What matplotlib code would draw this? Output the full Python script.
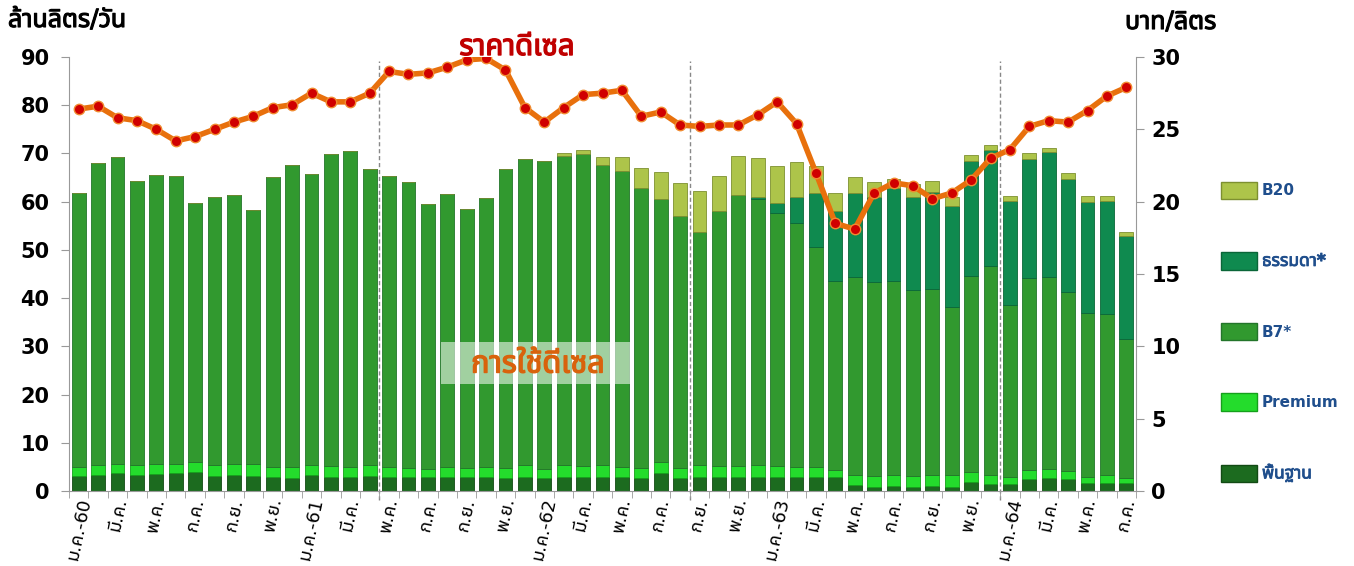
import numpy as np
import matplotlib
matplotlib.use('Agg')
import matplotlib.pyplot as plt
import matplotlib.patheffects as pe
from matplotlib import font_manager
from matplotlib.ft2font import FT2Font
from matplotlib.patches import Patch, Rectangle


# Pick any installed font that has Thai glyphs
def find_thai_font():
    names = []
    for f in font_manager.fontManager.ttflist:
        try:
            if 0x0E01 in FT2Font(f.fname).get_charmap():
                names.append(f.name)
        except Exception:
            continue
    for pref in ['Tahoma', 'Noto Sans Thai', 'Noto Sans Thai UI', 'Loma', 'Garuda', 'Sarabun']:
        if pref in names:
            return pref
    return names[0] if names else 'DejaVu Sans'


THAI = find_thai_font()
# Latin glyphs from DejaVu, Thai glyphs fall through to the Thai font
plt.rcParams['font.family'] = ['DejaVu Sans', THAI]

# Monthly data, Jan 2017 (ม.ค.-60) to Jul 2021 (ก.ค.-64)
months = ['ม.ค.', 'ก.พ.', 'มี.ค.', 'เม.ย.', 'พ.ค.', 'มิ.ย.',
          'ก.ค.', 'ส.ค.', 'ก.ย.', 'ต.ค.', 'พ.ย.', 'ธ.ค.']
years = ['60', '61', '62', '63', '64']

# million litres per day
base = [3.2, 3.4, 3.7, 3.4, 3.5, 3.7, 4.0, 3.2, 3.3, 3.2, 3.0, 2.6,
        3.4, 3.0, 2.8, 3.1, 3.0, 2.8, 2.8, 3.0, 3.0, 3.0, 2.7, 3.0,
        2.6, 3.0, 3.0, 3.0, 2.8, 2.6, 3.8, 2.6, 3.0, 2.9, 2.9, 3.0,
        2.9, 3.0, 3.0, 2.8, 1.2, 0.9, 1.0, 0.9, 1.0, 0.9, 1.9, 1.4,
        1.4, 2.4, 2.6, 2.4, 1.7, 1.7, 1.6]
premium = [1.8, 1.9, 1.8, 1.9, 2.0, 1.8, 2.1, 2.1, 2.2, 2.3, 2.0, 2.4,
           2.0, 2.2, 2.2, 2.3, 2.0, 2.0, 1.8, 2.0, 1.8, 2.0, 2.1, 2.4,
           2.0, 2.4, 2.2, 2.4, 2.2, 2.2, 2.2, 2.2, 2.4, 2.3, 2.3, 2.4,
           2.3, 2.0, 2.0, 1.5, 2.1, 2.2, 2.3, 2.2, 2.3, 2.4, 2.0, 1.9,
           1.6, 1.9, 2.0, 1.7, 1.3, 1.6, 1.0]
b7 = [56.9, 62.8, 63.7, 59.0, 60.0, 59.8, 53.6, 55.7, 55.9, 52.7, 60.1, 62.6,
      60.3, 64.7, 65.5, 61.4, 60.4, 59.3, 54.9, 56.6, 53.6, 55.8, 61.9, 63.4,
      63.9, 64.0, 64.7, 62.3, 61.4, 58.0, 54.5, 52.2, 48.4, 52.9, 56.1, 55.2,
      52.4, 50.5, 45.7, 39.3, 41.1, 40.2, 40.2, 38.6, 38.6, 34.8, 40.7, 43.3,
      35.6, 39.8, 39.7, 37.2, 34.0, 33.5, 28.9]
thammada = [0, 0, 0, 0, 0, 0, 0, 0, 0, 0, 0, 0,
            0, 0, 0, 0, 0, 0, 0, 0, 0, 0, 0, 0,
            0, 0, 0, 0, 0, 0, 0, 0, 0, 0, 0, 0.4,
            2.2, 5.5, 11.2, 14.5, 17.3, 17.7, 19.3, 19.3, 20.2, 20.9, 23.9, 24.1,
            21.5, 24.7, 25.9, 23.5, 22.9, 23.3, 21.3]
b20 = [0, 0, 0, 0, 0, 0, 0, 0, 0, 0, 0, 0,
       0, 0, 0, 0, 0, 0, 0, 0, 0, 0, 0, 0,
       0, 0.6, 0.8, 1.6, 2.8, 4.1, 5.6, 6.8, 8.5, 7.3, 8.1, 8.0,
       7.7, 7.2, 5.6, 3.8, 3.5, 3.0, 1.8, 2.6, 2.2, 2.0, 1.1, 1.0,
       1.0, 1.2, 1.0, 1.1, 1.2, 1.1, 0.9]

# baht per litre
price = [26.4, 26.6, 25.8, 25.6, 25.0, 24.2, 24.5, 25.0, 25.5, 25.9, 26.5, 26.7,
         27.5, 26.9, 26.9, 27.5, 29.0, 28.8, 28.9, 29.3, 29.8, 29.9, 29.1, 26.5,
         25.5, 26.5, 27.4, 27.5, 27.7, 25.9, 26.2, 25.3, 25.2, 25.3, 25.3, 26.0,
         26.9, 25.4, 22.0, 18.5, 18.1, 20.6, 21.3, 21.1, 20.2, 20.6, 21.5, 23.0,
         23.6, 25.2, 25.6, 25.5, 26.3, 27.3, 27.9]

# first month of each new period (dashed separators)
period_starts = [16, 32, 48]

series = [('พื้นฐาน', base, '#1c6b1f', '#124a14'),
          ('Premium', premium, '#24dc2c', '#15a01b'),
          ('B7*', b7, '#31992f', '#23752a'),
          ('ธรรมดา*', thammada, '#0f8a4f', '#0a6638'),
          ('B20', b20, '#adc44a', '#7d9030')]


def bold_thai(color, w=0.8):
    # the Thai font has no bold face, so thicken it with a stroke
    return [pe.withStroke(linewidth=w, foreground=color)]


n = len(price)
x = np.arange(n)
labels = []
for i in range(n):
    m = i % 12
    labels.append(months[m] + ('-' + years[i // 12] if m == 0 else ''))

fig = plt.figure(figsize=(13.54, 5.66), dpi=100)
ax = fig.add_axes([69 / 1354, 75 / 566, (1136 - 69) / 1354, (491 - 57) / 566])

bottom = np.zeros(n)
handles = []
for name, vals, col, edge in series:
    vals = np.array(vals)
    ax.bar(x, vals, 0.72, bottom=bottom, color=col, edgecolor=edge,
           linewidth=0.6, zorder=2)
    bottom += vals
    handles.append(Patch(facecolor=col, edgecolor=edge, label=name))

ax.set_xlim(-0.5, n - 0.5)
ax.set_ylim(0, 90)
ax.set_yticks(range(0, 91, 10))
ax.set_xticks(x[::2])
ax.set_xticklabels(labels[::2], rotation=78, ha='center', va='top', fontsize=13)
ax.set_xticks(np.arange(-0.5, n, 1), minor=True)
ax.tick_params(axis='x', which='major', length=0, pad=4)
ax.tick_params(axis='x', which='minor', length=5, color='#999999')
ax.tick_params(axis='y', length=6, color='#999999', pad=8)
for lab in ax.get_yticklabels():
    lab.set_fontweight('bold')
    lab.set_fontsize(15)
for side in ['top', 'right']:
    ax.spines[side].set_visible(False)
for side in ['left', 'bottom']:
    ax.spines[side].set_color('#999999')

for p in period_starts:
    ax.axvline(p - 0.5, ymin=-0.02, ymax=0.99, color='#888888', lw=1,
               ls=(0, (3, 2)), clip_on=False, zorder=1)

ax2 = ax.twinx()
ax2.set_ylim(0, 30)
ax2.set_yticks(range(0, 31, 5))
ax2.plot(x, price, color='#e8700c', lw=4, marker='o', markersize=7.5,
         markerfacecolor='#d00000', markeredgecolor='#f08a30',
         markeredgewidth=1, zorder=3)
ax2.tick_params(axis='y', length=6, color='#999999', pad=5)
for lab in ax2.get_yticklabels():
    lab.set_fontweight('bold')
    lab.set_fontsize(15)
for side in ['top', 'left', 'bottom']:
    ax2.spines[side].set_visible(False)
ax2.spines['right'].set_color('#999999')

# titles and labels
fig.text(8 / 1354, 1 - 20 / 566, 'ล้านลิตร/วัน', fontsize=18,
         ha='left', va='center', path_effects=bold_thai('black'))
fig.text(1125 / 1354, 1 - 22 / 566, 'บาท/ลิตร', fontsize=18,
         ha='left', va='center', path_effects=bold_thai('black'))
fig.text(517 / 1354, 1 - 47 / 566, 'ราคาดีเซล', fontsize=21,
         color='#c00000', ha='center', va='center', zorder=5,
         path_effects=bold_thai('#c00000', 1.0))
fig.patches.append(Rectangle((441 / 1354, 1 - 384 / 566), 193 / 1354, 42 / 566,
                             transform=fig.transFigure, facecolor='white',
                             alpha=0.55, edgecolor='none', zorder=4))
fig.text(538 / 1354, 1 - 364 / 566, 'การใช้ดีเซล', fontsize=22,
         color='#d9620c', ha='center', va='center', zorder=5,
         path_effects=bold_thai('#d9620c', 1.0))

leg = fig.legend(handles[::-1], [h.get_label() for h in handles[::-1]],
                 loc='center left', bbox_to_anchor=(1207 / 1354, 1 - 332 / 566),
                 frameon=False, fontsize=11, handlelength=2.4, handleheight=1.4,
                 handletextpad=0.3, labelspacing=3.45)
for t in leg.get_texts():
    t.set_color('#1f4e8c')
    t.set_fontweight('bold')
    if t.get_text() in ('ธรรมดา*', 'พื้นฐาน'):
        t.set_fontsize(12.5)
        t.set_path_effects(bold_thai('#1f4e8c', 0.6))

fig.savefig('out.png', dpi=100)
